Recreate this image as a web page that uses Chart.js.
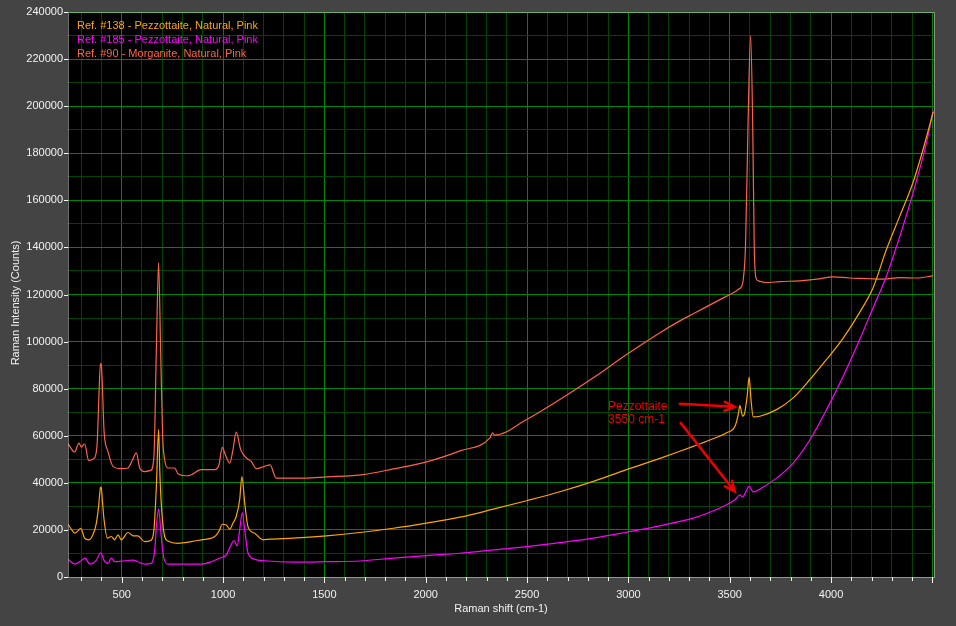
<!DOCTYPE html>
<html><head><meta charset="utf-8">
<script src="https://cdn.jsdelivr.net/npm/chart.js@4"></script>
<style>html,body{margin:0;padding:0;background:#444444;overflow:hidden}</style>
</head><body>
<canvas id="c" width="956" height="626"></canvas>
<script>
// ---- Data ----
const seriesLabels = [
  "Ref. #138 - Pezzottaite, Natural, Pink",
  "Ref. #185 - Pezzottaite, Natural, Pink",
  "Ref. #90 - Morganite, Natural, Pink"
];
const seriesColors = ["#ffa500", "#ff00ff", "#ff6347"];

const shift138 = [235,250,268,285,298,317,337,358,375,386,395,399,405,413,429,449,465,482,498,531,556,580,613,643,659,671,682,688,695,712,728,778,843,893,959,983,995,1016,1033,1049,1065,1082,1093,1107,1123,1156,1197,1232,1347,1511,1676,1840,2004,2169,2333,2498,2662,2827,2991,3156,3254,3320,3402,3485,3526,3542,3550,3564,3574,3586,3596,3605,3616,3649,3731,3813,3896,3978,4060,4142,4208,4274,4340,4405,4455,4504];
const counts138 = [22400,20500,18600,19700,20700,16500,15800,17900,22900,30000,37800,38200,32000,24300,16500,17200,15800,17900,15800,18900,17500,17500,15000,15500,20000,38500,62600,45000,31400,17200,15300,14300,15000,15800,17200,20000,22400,22100,20300,22900,25700,32800,42700,31400,21400,18600,15800,16100,16500,17500,18900,20700,22900,25400,28800,32400,36200,40600,45600,50400,53400,55500,58200,61300,64000,69000,72800,68300,69700,76800,84900,75400,68000,68300,71100,76100,83900,92400,101500,112500,123000,139300,153500,167700,181900,197500];

const shift185 = [235,268,293,320,342,375,396,416,432,449,465,515,556,580,613,646,663,671,682,695,708,728,893,942,983,1016,1036,1054,1070,1082,1095,1107,1123,1156,1205,1350,1511,1676,1840,2004,2169,2333,2498,2662,2827,2991,3156,3254,3320,3402,3485,3526,3550,3564,3574,3596,3616,3649,3731,3813,3896,3978,4060,4142,4208,4274,4340,4389,4422,4471,4504];
const counts185 = [7500,5500,6500,8000,5500,7200,10300,6500,5800,8000,6500,6900,7200,6500,5500,5800,11500,21400,28800,17200,8000,5500,5500,6500,8000,9400,12900,15500,13200,20000,27400,20000,10300,7500,6900,6300,6500,6800,8000,9100,10100,11500,12900,14600,16500,19000,21700,23600,25000,27500,30700,32800,34900,33900,35200,38500,36100,37400,42000,48400,58300,71100,85300,101000,114500,128000,144900,158500,168500,184500,198200];

const shift90 = [235,268,289,301,317,337,362,378,387,395,399,404,413,432,457,498,531,552,572,589,613,643,659,671,682,692,702,712,728,761,778,827,893,959,980,996,1008,1033,1049,1065,1087,1115,1139,1164,1205,1232,1262,1300,1396,1511,1692,1840,2004,2169,2317,2330,2340,2498,2662,2827,2991,3156,3254,3320,3485,3517,3545,3559,3567,3578,3591,3603,3613,3621,3629,3641,3682,3748,3846,3930,4011,4090,4175,4260,4340,4420,4504];
const counts90 = [56600,53100,56900,55200,56600,49500,50300,55500,75400,90700,90300,82500,61900,53400,47000,46000,46300,49500,52700,46300,44800,45300,51200,96700,133600,96700,60000,49800,46300,46300,43900,43000,45600,45600,47700,55100,52700,48400,54100,61500,54100,50600,49100,46000,47000,47600,42000,42000,42000,42500,43500,45900,48900,53600,59100,61200,60300,66900,75400,84600,94500,103800,108800,111800,119300,120700,122300,123500,126500,140700,194600,230100,194600,140700,127200,125800,125100,125500,125800,126500,127500,127000,126800,126500,127200,127000,127900];

const xMin = 235, xMax = 4508, xMinorStep = 100, xMajorStep = 500, xLastLabel = 4000;
const yMin = 0, yMax = 240000, yMinorStep = 10000, yMajorStep = 20000;

const xTitle = "Raman shift (cm-1)";
const yTitle = "Raman Intensity (Counts)";
const noteLines = ["Pezzottaite", "3550 cm-1"];
// annotation anchor / arrows in data coordinates
const noteAnchor = {x: 2900, y: 71100};
const arrows = [
  {from: {x: 3254, y: 73550}, to: {x: 3525, y: 72300}},
  {from: {x: 3258, y: 65460}, to: {x: 3525, y: 36330}}
];

const FONT = "'Liberation Sans', Arial, sans-serif";
const toPts = (xs, ys) => xs.map((x, i) => ({x: x, y: ys[i]}));

const bgPlugin = {
  id: 'bg',
  beforeDraw(chart) {
    const {ctx, chartArea: a} = chart;
    ctx.save();
    ctx.fillStyle = '#444444';
    ctx.fillRect(0, 0, chart.width, chart.height);
    ctx.fillStyle = '#000000';
    ctx.fillRect(a.left, a.top, a.right - a.left, a.bottom - a.top);
    ctx.restore();
  },
  afterDatasetsDraw(chart) {
    const {ctx, chartArea: a, scales} = chart;
    ctx.save();
    // legend
    ctx.font = "11px " + FONT;
    ctx.textAlign = 'left';
    ctx.textBaseline = 'alphabetic';
    chart.data.datasets.forEach((ds, i) => {
      ctx.fillStyle = ds.borderColor;
      ctx.fillText(ds.label, a.left + 9, a.top + 16.5 + i * 14);
    });
    // annotation
    const xs = scales.x, ys = scales.y;
    ctx.fillStyle = '#ee0000';
    ctx.font = "12px " + FONT;
    const tx = xs.getPixelForValue(noteAnchor.x), ty = ys.getPixelForValue(noteAnchor.y);
    noteLines.forEach((t, i) => ctx.fillText(t, tx, ty + i * 13));
    ctx.strokeStyle = '#ee0000';
    ctx.lineWidth = 2.5;
    ctx.lineCap = 'round';
    arrows.forEach(ar => {
      const x1 = xs.getPixelForValue(ar.from.x), y1 = ys.getPixelForValue(ar.from.y);
      const x2 = xs.getPixelForValue(ar.to.x), y2 = ys.getPixelForValue(ar.to.y);
      const ang = Math.atan2(y2 - y1, x2 - x1);
      ctx.beginPath();
      ctx.moveTo(x1, y1); ctx.lineTo(x2, y2);
      const L = 11, sp = 0.42;
      ctx.moveTo(x2 - L * Math.cos(ang - sp), y2 - L * Math.sin(ang - sp));
      ctx.lineTo(x2, y2);
      ctx.lineTo(x2 - L * Math.cos(ang + sp), y2 - L * Math.sin(ang + sp));
      ctx.stroke();
    });
    ctx.restore();
  },
  afterDraw(chart) {
    const {ctx, chartArea: a, scales} = chart;
    ctx.save();
    // tick marks
    ctx.strokeStyle = '#ffffff';
    ctx.lineWidth = 1;
    ctx.beginPath();
    scales.x.ticks.forEach(t => {
      const px = Math.round(scales.x.getPixelForValue(t.value)) + 0.5;
      const len = (t.value % xMajorStep === 0) ? 6 : 4;
      ctx.moveTo(px, a.bottom); ctx.lineTo(px, a.bottom + len);
    });
    scales.y.ticks.forEach(t => {
      if (t.value % yMajorStep !== 0) return;
      const py = Math.round(scales.y.getPixelForValue(t.value)) + 0.5;
      ctx.moveTo(a.left, py); ctx.lineTo(a.left - 4, py);
    });
    ctx.stroke();
    // dotted frame
    ctx.strokeStyle = '#d8d8d8';
    ctx.setLineDash([1, 1]);
    ctx.strokeRect(a.left + 0.5, a.top + 0.5, a.right - a.left, a.bottom - a.top);
    ctx.setLineDash([]);
    // axis titles
    ctx.fillStyle = '#f2f2f2';
    ctx.font = "11px " + FONT;
    ctx.textAlign = 'center';
    ctx.textBaseline = 'middle';
    ctx.fillText(xTitle, (a.left + a.right) / 2, 609);
    ctx.translate(16, 303);
    ctx.rotate(-Math.PI / 2);
    ctx.fillText(yTitle, 0, 0);
    ctx.restore();
  }
};

const majorGrid = 'rgb(0,135,0)', minorGrid = 'rgb(0,70,0)';

new Chart(document.getElementById('c'), {
  type: 'line',
  data: {
    datasets: [
      {label: seriesLabels[0], data: toPts(shift138, counts138), borderColor: seriesColors[0]},
      {label: seriesLabels[1], data: toPts(shift185, counts185), borderColor: seriesColors[1]},
      {label: seriesLabels[2], data: toPts(shift90, counts90), borderColor: seriesColors[2]}
    ].map(d => Object.assign(d, {borderWidth: 1.2, pointRadius: 0, cubicInterpolationMode: 'monotone', fill: false}))
  },
  options: {
    responsive: false,
    animation: false,
    layout: {padding: {left: 0, top: 12, right: 22, bottom: 0}},
    plugins: {legend: {display: false}, tooltip: {enabled: false}},
    scales: {
      x: {
        type: 'linear', min: xMin, max: xMax,
        afterBuildTicks(s) {
          const t = [];
          for (let v = Math.ceil(xMin / xMinorStep) * xMinorStep; v <= xMax; v += xMinorStep) t.push({value: v});
          s.ticks = t;
        },
        afterFit(s) { s.height = 49; },
        border: {display: false},
        grid: {
          color: c => (c.tick && c.tick.value % xMajorStep === 0) ? majorGrid : minorGrid,
          lineWidth: 1,
          drawTicks: false
        },
        ticks: {
          autoSkip: false, maxRotation: 0, padding: 11,
          color: '#f2f2f2', font: {family: FONT, size: 11},
          callback: v => (v % xMajorStep === 0 && v <= xLastLabel) ? String(v) : ''
        }
      },
      y: {
        type: 'linear', min: yMin, max: yMax,
        afterBuildTicks(s) {
          const t = [];
          for (let v = yMin; v <= yMax; v += yMinorStep) t.push({value: v});
          s.ticks = t;
        },
        afterFit(s) { s.width = 68; },
        border: {display: false},
        grid: {
          color: c => (c.tick && c.tick.value % yMajorStep === 0) ? majorGrid : minorGrid,
          lineWidth: 1,
          drawTicks: false
        },
        ticks: {
          autoSkip: false, padding: 5,
          color: '#f2f2f2', font: {family: FONT, size: 11},
          callback: v => (v % yMajorStep === 0) ? String(v) : ''
        }
      }
    }
  },
  plugins: [bgPlugin]
});
</script>
</body></html>
